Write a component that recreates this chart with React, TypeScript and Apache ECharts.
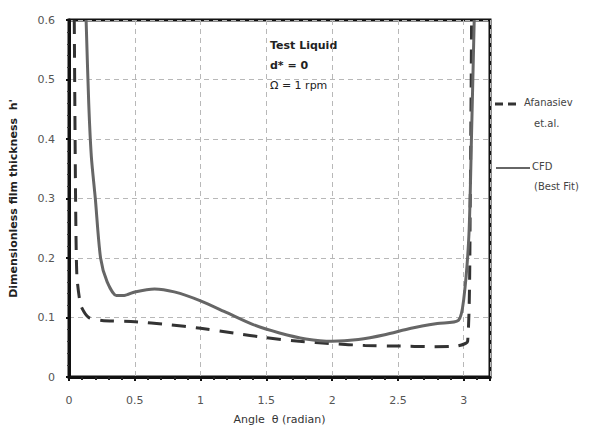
import React, { useEffect, useRef } from "react";
import * as echarts from "echarts";

const xTicks = [0, 0.5, 1, 1.5, 2, 2.5, 3];
const yTicks = [0, 0.1, 0.2, 0.3, 0.4, 0.5, 0.6];

const cfdX = [0.13, 0.15, 0.17, 0.2, 0.24, 0.29, 0.36, 0.42, 0.5, 0.65, 0.8, 1.0, 1.2, 1.4, 1.6, 1.8, 2.0, 2.2, 2.4, 2.6, 2.8, 2.96, 3.0, 3.04, 3.06, 3.08];
const cfdY = [0.6, 0.46, 0.37, 0.3, 0.2, 0.16, 0.137, 0.137, 0.143, 0.148, 0.143, 0.128, 0.108, 0.088, 0.074, 0.064, 0.06, 0.063, 0.071, 0.082, 0.09, 0.095, 0.13, 0.24, 0.41, 0.6];

const afaX = [0.04, 0.05, 0.06, 0.09, 0.15, 0.25, 0.5, 0.75, 1.0, 1.25, 1.5, 1.75, 2.0, 2.25, 2.5, 2.75, 2.95, 3.03, 3.05, 3.06];
const afaY = [0.6, 0.3, 0.17, 0.12, 0.1, 0.095, 0.093, 0.088, 0.082, 0.074, 0.066, 0.06, 0.056, 0.053, 0.052, 0.051, 0.052, 0.06, 0.3, 0.6];

const seriesNames = ["Afanasiev\net.al.", "CFD\n(Best Fit)"];
const noteLines = ["Test Liquid", "d* = 0", "Ω = 1 rpm"];
const xTitle = "Angle  θ (radian)";
const yTitle = "Dimensionless film thickness  h'";

const FONT = "DejaVu Sans";

export default function App() {
  const ref = useRef<HTMLDivElement>(null);
  useEffect(() => {
    if (!ref.current) return;
    const chart = echarts.init(ref.current, null, { renderer: "svg" });
    const afa = afaX.map((x, i) => [x, afaY[i]]);
    const cfd = cfdX.map((x, i) => [x, cfdY[i]]);
    chart.setOption({
      animation: false,
      backgroundColor: "#fff",
      grid: {
        left: 68,
        right: 113,
        top: 20,
        bottom: 50,
        show: true,
        borderColor: "#111",
        borderWidth: 3,
      },
      xAxis: {
        type: "value",
        min: 0,
        max: 3.2,
        interval: 0.5,
        name: xTitle,
        nameLocation: "middle",
        nameGap: 37,
        nameTextStyle: { fontFamily: FONT, fontSize: 11, color: "#333" },
        axisLine: { show: true, onZero: false, lineStyle: { color: "#111", width: 3 } },
        axisTick: { show: true, length: 4, lineStyle: { color: "#111", width: 2 } },
        minorTick: { show: true, splitNumber: 5, length: 3, lineStyle: { color: "#222", width: 2 } },
        axisLabel: {
          fontFamily: FONT,
          fontSize: 11,
          color: "#555",
          margin: 18,
          showMaxLabel: false,
          formatter: (v: number) => (xTicks.includes(v) ? String(v) : ""),
        },
        splitLine: { show: true, lineStyle: { color: "#b8b8b8", type: [5, 4], width: 1 } },
      },
      yAxis: {
        type: "value",
        min: 0,
        max: 0.6,
        interval: 0.1,
        name: yTitle,
        nameLocation: "middle",
        nameGap: 50,
        nameTextStyle: { fontFamily: FONT, fontSize: 11, color: "#222", fontWeight: "bold" },
        axisLine: { show: true, onZero: false, lineStyle: { color: "#111", width: 3 } },
        axisTick: { show: true, length: 3, lineStyle: { color: "#111", width: 2 } },
        minorTick: { show: true, splitNumber: 5, length: 2, lineStyle: { color: "#333", width: 1 } },
        axisLabel: {
          fontFamily: FONT,
          fontSize: 11,
          color: "#555",
          margin: 14,
          formatter: (v: number) => {
            const t = yTicks.find((k) => Math.abs(k - v) < 1e-6);
            return t === undefined ? "" : String(t);
          },
        },
        splitLine: { show: true, lineStyle: { color: "#b8b8b8", type: [5, 4], width: 1 } },
      },
      series: [
        {
          name: seriesNames[0],
          type: "line",
          data: afa,
          showSymbol: false,
          smooth: 0.2,
          lineStyle: { color: "#333", width: 3, type: [14, 10] },
          z: 3,
        },
        {
          name: seriesNames[1],
          type: "line",
          data: cfd,
          showSymbol: false,
          smooth: 0.25,
          lineStyle: { color: "#666", width: 3 },
          z: 4,
        },
      ],
      graphic: [
        {
          type: "text",
          left: 270,
          top: 40,
          style: { text: noteLines[0], fontFamily: FONT, fontSize: 11, fontWeight: "bold", fill: "#222" },
        },
        {
          type: "text",
          left: 270,
          top: 60,
          style: { text: noteLines[1], fontFamily: FONT, fontSize: 11, fontWeight: "bold", fill: "#222" },
        },
        {
          type: "text",
          left: 270,
          top: 80,
          style: { text: noteLines[2], fontFamily: FONT, fontSize: 11, fill: "#222" },
        },
        {
          type: "line",
          shape: { x1: 495, y1: 104, x2: 520, y2: 104 },
          style: { stroke: "#333", lineWidth: 3, lineDash: [8, 5] },
        },
        {
          type: "text",
          left: 524,
          top: 97,
          style: { text: "Afanasiev", fontFamily: FONT, fontSize: 10, fill: "#444" },
        },
        {
          type: "text",
          left: 534,
          top: 118,
          style: { text: "et.al.", fontFamily: FONT, fontSize: 10, fill: "#444" },
        },
        {
          type: "line",
          shape: { x1: 496, y1: 168, x2: 530, y2: 168 },
          style: { stroke: "#666", lineWidth: 2 },
        },
        {
          type: "text",
          left: 532,
          top: 161,
          style: { text: "CFD", fontFamily: FONT, fontSize: 10, fill: "#444" },
        },
        {
          type: "text",
          left: 534,
          top: 181,
          style: { text: "(Best Fit)", fontFamily: FONT, fontSize: 10, fill: "#444" },
        },
      ],
    });
    return () => chart.dispose();
  }, []);
  return (
    <div
      ref={ref}
      style={{ position: "fixed", left: 0, top: 0, width: 603, height: 430, background: "#fff" }}
    />
  );
}
